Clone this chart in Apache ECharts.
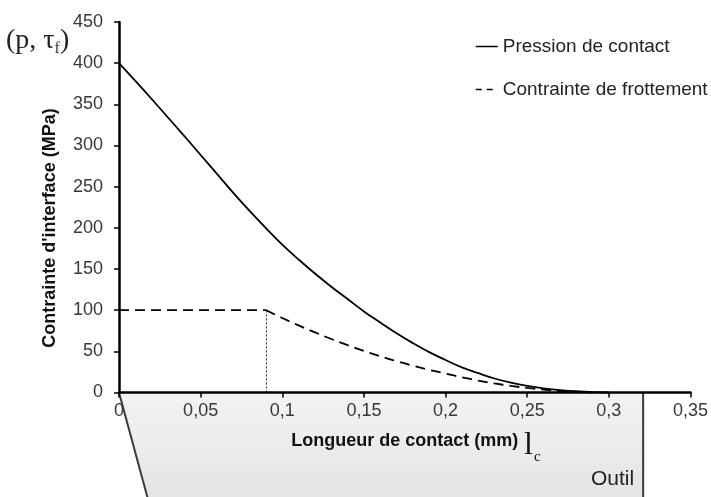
<!DOCTYPE html>
<html>
<head>
<meta charset="utf-8">
<script src="https://cdn.jsdelivr.net/npm/echarts@6/dist/echarts.min.js"></script>
<style>
html,body{margin:0;padding:0;background:#fff;}
#chart{width:711px;height:497px;}
</style>
</head>
<body>
<div id="chart"></div>
<script>
// ---- data ----
const xTicks = [0, 0.05, 0.1, 0.15, 0.2, 0.25, 0.3, 0.35];
const yTicks = [0, 50, 100, 150, 200, 250, 300, 350, 400, 450];

const pressionX = [0,0.01,0.02,0.03,0.04,0.05,0.06,0.07,0.08,0.09,0.10,0.11,0.12,0.13,0.14,0.15,0.16,0.17,0.18,0.19,0.20,0.21,0.22,0.23,0.24,0.25,0.26,0.27,0.28,0.29,0.30];
const pressionY = [400,378.5,356.5,334,311.5,288.5,265.5,242.5,220.5,199.5,179.5,161.5,144.5,128.5,113.5,98.5,85,72,60,49,39.5,30.5,23.5,17,12,8,5,3,1.5,0.5,0];

const frottementX = [0,0.09,0.10,0.11,0.12,0.13,0.14,0.15,0.16,0.17,0.18,0.19,0.20,0.21,0.22,0.23,0.24,0.25,0.26,0.27,0.28,0.29];
const frottementY = [100,100,90.5,81.5,73,65,57.5,50.5,44,38,32.5,27.5,23,18.5,14.5,11,8,5.5,3.5,1.8,0.6,0];

const seuilX = 0.09;    // end of the sticking zone (dotted line)
const seuilY = 100;

const names = ['Pression de contact', 'Contrainte de frottement'];

// ---- chart ----
const chart = echarts.init(document.getElementById('chart'), null, {renderer: 'canvas'});
const zip = (xs, ys) => xs.map((x, i) => [x, ys[i]]);
const FONT = '"Liberation Sans", Arial, sans-serif';
const SERIF = '"Liberation Serif", "Times New Roman", serif';
const iSeuil = frottementX.indexOf(seuilX);

chart.setOption({
  animation: false,
  backgroundColor: '#fff',
  grid: {left: 119, right: 19, top: 22, bottom: 104.5},
  legend: {
    orient: 'vertical', left: 470, top: 32, itemGap: 24,
    itemWidth: 22, itemHeight: 14, itemStyle: {opacity: 0},
    textStyle: {fontFamily: FONT, fontSize: 19, color: '#222'},
    data: [
      {name: names[0], lineStyle: {width: 1.5}},
      {name: names[1], lineStyle: {type: [6, 5], width: 1.5}}
    ]
  },
  xAxis: {
    type: 'value', min: xTicks[0], max: xTicks[xTicks.length - 1], interval: 0.05,
    name: 'Longueur de contact (mm)', nameLocation: 'middle', nameGap: 40,
    nameTextStyle: {fontFamily: FONT, fontSize: 18, fontWeight: 'bold', color: '#111'},
    axisLine: {show: true, onZero: false, lineStyle: {color: '#000', width: 2.5}},
    axisTick: {show: true, length: 5, lineStyle: {color: '#000', width: 1.5}},
    axisLabel: {
      fontFamily: FONT, fontSize: 18, color: '#383838', margin: 10,
      formatter: v => String(+v.toFixed(2)).replace('.', ',')
    },
    splitLine: {show: false}, z: 5
  },
  yAxis: {
    type: 'value', min: yTicks[0], max: yTicks[yTicks.length - 1], interval: 50,
    axisLine: {show: true, onZero: false, lineStyle: {color: '#000', width: 2.5}},
    axisTick: {show: true, length: 5, lineStyle: {color: '#000', width: 1.5}},
    axisLabel: {fontFamily: FONT, fontSize: 18, color: '#383838', margin: 16},
    splitLine: {show: false}, z: 5
  },
  series: [
    {
      name: names[0], type: 'line', data: zip(pressionX, pressionY),
      smooth: 0.4, symbol: 'none', clip: false,
      lineStyle: {color: '#000', width: 1.8}, itemStyle: {color: '#000'}
    },
    {
      name: names[1], type: 'line',
      data: zip(frottementX.slice(0, iSeuil + 1), frottementY.slice(0, iSeuil + 1)),
      symbol: 'none', clip: false,
      lineStyle: {color: '#000', width: 1.8, type: [10, 6]}, itemStyle: {color: '#000'},
      markLine: {
        silent: true, symbol: 'none', label: {show: false},
        lineStyle: {type: [2, 2], color: '#333', width: 1},
        data: [[{coord: [seuilX, 0]}, {coord: [seuilX, seuilY]}]]
      }
    },
    {
      name: names[1], type: 'line',
      data: zip(frottementX.slice(iSeuil), frottementY.slice(iSeuil)),
      smooth: 0.4, symbol: 'none', clip: false,
      lineStyle: {color: '#000', width: 1.8, type: [10, 6]}, itemStyle: {color: '#000'}
    }
  ]
});

// ---- annotations: axis title, tool ("Outil") drawn below the contact axis ----
const toolRightX = 0.321;   // right edge of the tool in axis units
const toolBottomLeftX = 0.0177;
const H = chart.getHeight();
const pTL = chart.convertToPixel({gridIndex: 0}, [0, 0]);
const pTR = chart.convertToPixel({gridIndex: 0}, [toolRightX, 0]);
const pBL = chart.convertToPixel({gridIndex: 0}, [toolBottomLeftX, 0]);

chart.setOption({
  graphic: [
    {
      type: 'polygon', z: -1, silent: true,
      shape: {points: [[pTL[0], pTL[1]], [pTR[0], pTR[1]], [pTR[0], H + 2], [pBL[0], H + 2]]},
      style: {
        fill: new echarts.graphic.LinearGradient(0, 0, 0, 1, [
          {offset: 0, color: '#f3f3f3'}, {offset: 1, color: '#e4e4e4'}
        ]),
        stroke: 'none'
      }
    },
    {
      type: 'line', z: 1, silent: true,
      shape: {x1: pTL[0], y1: pTL[1], x2: pBL[0], y2: H + 2},
      style: {stroke: '#3a3a3a', lineWidth: 2}
    },
    {
      type: 'line', z: 1, silent: true,
      shape: {x1: pTR[0], y1: pTR[1], x2: pTR[0], y2: H + 2},
      style: {stroke: '#3a3a3a', lineWidth: 2}
    },
    {
      type: 'text', z: 10, silent: true,
      x: 50, y: 228, rotation: Math.PI / 2,
      style: {text: "Contrainte d'interface (MPa)", font: 'bold 18px ' + FONT, fill: '#111', align: 'center', verticalAlign: 'middle'}
    },
    {
      type: 'text', z: 10, silent: true,
      x: pTR[0] - 9, y: 479,
      style: {text: 'Outil', font: '21px ' + FONT, fill: '#222', align: 'right', verticalAlign: 'middle'}
    },
    {
      type: 'text', z: 10, silent: true,
      x: 524, y: 446,
      style: {
        text: '{l|l}{c|c}', verticalAlign: 'middle',
        rich: {
          l: {font: '32px ' + SERIF, fill: '#111'},
          c: {font: '15px ' + SERIF, fill: '#111', padding: [22, 0, 0, 1]}
        }
      }
    },
    {
      type: 'text', z: 10, silent: true,
      x: 6, y: 41,
      style: {
        text: '{a|(p, τ}{s|f}{a|)}', verticalAlign: 'middle',
        rich: {
          a: {font: '28px ' + SERIF, fill: '#222'},
          s: {font: '16px ' + SERIF, fill: '#4a2a5a', padding: [16, 0, 0, 0]}
        }
      }
    }
  ]
});
</script>
</body>
</html>
